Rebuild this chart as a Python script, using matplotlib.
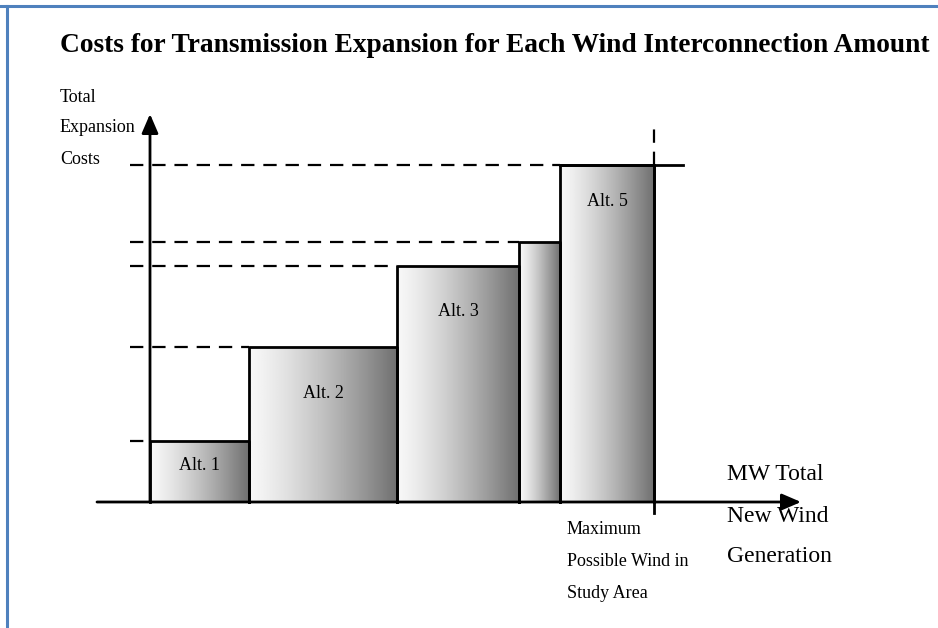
import numpy as np
import matplotlib
matplotlib.use("Agg")
import matplotlib.pyplot as plt
from matplotlib.lines import Line2D

plt.rcParams['font.family'] = ['Liberation Serif', 'DejaVu Serif']

# schematic data (arbitrary units, origin at axis crossing)
alt_labels = ["Alt. 1", "Alt. 2", "Alt. 3", "", "Alt. 5"]
bar_edges = [0, 99, 247, 369, 410, 504]      # cumulative MW of new wind
bar_costs = [61, 155, 236, 260, 337]         # total expansion cost
label_drop = [25, 46, 45, 0, 37]             # where the label sits under the bar top
max_wind = 504

fig = plt.figure(figsize=(9.38, 6.28), dpi=100)
ax = fig.add_axes([0, 0, 1, 1])
ax.set_xlim(-150, 788)
ax.set_ylim(-126, 502)
ax.axis('off')

# gradient filled bars
t = np.linspace(0, 1, 256)
grad = (0.97 - 0.53 * t ** 1.3).reshape(1, -1)
for i, h in enumerate(bar_costs):
    x0, x1 = bar_edges[i], bar_edges[i + 1]
    ax.imshow(grad, cmap='gray', vmin=0, vmax=1, aspect='auto',
              extent=[x0, x1, 0, h], zorder=1, interpolation='bilinear')
    ax.plot([x0, x0, x1, x1], [0, h, h, 0], color='black', lw=2, zorder=3)
    # dashed guide line from the cost axis
    ax.plot([-20, x0], [h, h], color='black', lw=1.6, ls=(0, (6, 4)), zorder=2)
    if alt_labels[i]:
        ax.text((x0 + x1) / 2, h - label_drop[i], alt_labels[i], ha='center',
                va='center', fontsize=13)

# max possible wind marker
ax.plot([max_wind, max_wind], [-11, bar_costs[-1]], color='black', lw=2, zorder=3)
ax.plot([max_wind, max_wind], [bar_costs[-1], 377], color='black', lw=1.6,
        ls=(0, (6, 4)), zorder=3)
ax.plot([bar_edges[-2], 533], [bar_costs[-1], bar_costs[-1]], color='black', lw=2, zorder=3)

# axes with arrows
arrow = dict(arrowstyle='-|>,head_length=0.58,head_width=0.25', mutation_scale=20,
             lw=2, color='black', shrinkA=0, shrinkB=0)
ax.annotate('', xy=(0, 388), xytext=(0, 0), arrowprops=arrow, zorder=4)
ax.annotate('', xy=(651, 0), xytext=(-53, 0), arrowprops=arrow, zorder=4)

# texts
ax.text(345, 456, "Costs for Transmission Expansion for Each Wind Interconnection Amount",
        ha='center', va='center', fontsize=19.7, fontweight='bold')
for y, s in zip([405, 374, 342], ["Total", "Expansion", "Costs"]):
    ax.text(-90, y, s, ha='left', va='center', fontsize=13)
for y, s in zip([28, -14, -55], ["MW Total", "New Wind", "Generation"]):
    ax.text(577, y, s, ha='left', va='center', fontsize=17)
for y, s in zip([-28, -60, -92], ["Maximum", "Possible Wind in", "Study Area"]):
    ax.text(417, y, s, ha='left', va='center', fontsize=13)

# frame of the original box (top and left edges)
fig.add_artist(Line2D([0, 1], [1 - 5.5 / 628] * 2, transform=fig.transFigure,
                      color='#4f81bd', lw=2.2))
fig.add_artist(Line2D([7 / 938] * 2, [0, 1 - 5.5 / 628], transform=fig.transFigure,
                      color='#4f81bd', lw=2.2))

fig.savefig('out.png', dpi=100)
